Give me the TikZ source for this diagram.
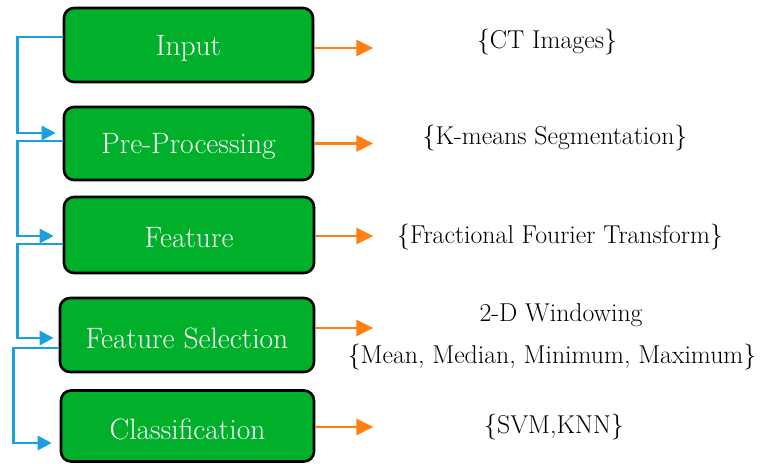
\documentclass[tikz,border=0pt]{standalone}
\usetikzlibrary{arrows.meta}
\definecolor{boxgreen}{RGB}{0,176,42}
\definecolor{lineblue}{RGB}{27,160,222}
\definecolor{lineorange}{RGB}{255,128,18}
\newcommand{\stgtxt}[1]{\raisebox{-3pt}[\height][\depth]{#1}}
\tikzset{
  stage/.style={draw=black, line width=2.6pt, fill=boxgreen, rounded corners=10pt,
    text=white, font=\fontsize{29.5}{34}\selectfont, inner sep=0pt},
  info/.style={font=\fontsize{25.8}{30}\selectfont, text=black, inner sep=0pt},
  bl/.style={draw=lineblue, line width=2.8pt, -{Triangle[length=14pt,width=14pt]}},
  ol/.style={draw=lineorange, line width=2.8pt, -{Triangle[length=17pt,width=16pt]}}
}
\begin{document}
\begin{tikzpicture}[x=1pt,y=-1pt]
\useasboundingbox (0,0) rectangle (760,463);
\node[stage, minimum width=249pt, minimum height=74pt] (in)  at (188.5,45) {\stgtxt{Input}};
\node[stage, minimum width=249pt, minimum height=73pt] (pre) at (188.5,143.5) {\stgtxt{Pre-Processing}};
\node[stage, minimum width=250pt, minimum height=76pt] (fe)  at (189,235) {\stgtxt{Feature}};
\node[stage, minimum width=254pt, minimum height=74pt] (fs)  at (187,335) {\stgtxt{Feature Selection}};
\node[stage, minimum width=253pt, minimum height=71pt] (cl)  at (187.5,426) {\stgtxt{Classification}};

\node[info] (t1) at (547,42) {\{CT Images\}};
\node[info] (t2) at (555,138) {\{K-means Segmentation\}};
\node[info] (t3) at (560,237) {\{Fractional Fourier Transform\}};
\node[info] (t4a) at (561,315) {2-D Windowing};
\node[info] (t4b) at (552,357) {\{Mean, Median, Minimum, Maximum\}};
\node[info] (t5) at (554,427) {\{SVM,KNN\}};

\draw[ol] ([yshift=-3pt]in.east) -- ++(59,0);
\draw[ol] ([yshift=0pt]pre.east) -- ++(59,0);
\draw[ol] ([yshift=-1pt]fe.east) -- ++(58,0);
\draw[ol] ([yshift=7pt]fs.east) -- ++(58,0);
\draw[ol] ([yshift=-1pt]cl.east) -- ++(58,0);

\draw[bl] ([yshift=8pt]in.west) -- ++(-45,0) |- ([yshift=10.5pt,xshift=-7pt]pre.west);
\draw[bl] ([yshift=2.5pt]pre.west) -- ++(-45,0) |- ([yshift=-1pt,xshift=-9pt]fe.west);
\draw[bl] ([yshift=-9pt]fe.west) -- ++(-45,0) |- ([yshift=-3pt,xshift=-5pt]fs.west);
\draw[bl] ([yshift=-13pt]fs.west) -- ++(-45,0) |- ([yshift=-17pt,xshift=-8pt]cl.west);
\end{tikzpicture}
\end{document}
